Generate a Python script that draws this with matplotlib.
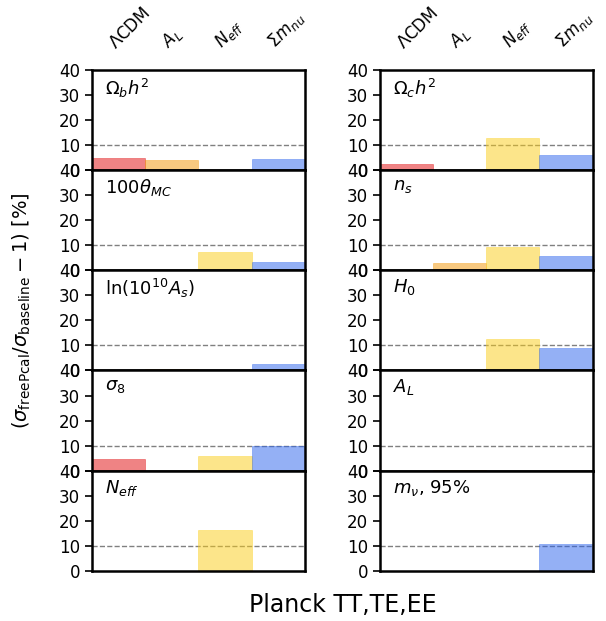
import matplotlib
matplotlib.use("Agg")
import matplotlib.pyplot as plt
import numpy as np

plt.rcParams['mathtext.fontset'] = 'dejavusans'

# models on the x axis
models = [r'$\Lambda$CDM', r'$A_L$', r'$N_{eff}$', r'$\Sigma m_{nu}$']
model_colors = ['#e0080b', '#f39502', '#fbcd17', '#2a62ec']

# parameter panels, column by column
left_params = [r'$\Omega_b h^2$', r'$100\theta_{MC}$', r'$\ln(10^{10} A_s)$',
               r'$\sigma_8$', r'$N_{eff}$']
right_params = [r'$\Omega_c h^2$', r'$n_s$', r'$H_0$', r'$A_L$', r'$m_\nu$, 95%']

# percentage increase in the error bar when the polarization calibration is freed
# (nan = parameter not varied in that model)
left_vals = [
    [5.1, 4.0, 0.3, 4.6],
    [0.3, 0.3, 7.5, 3.5],
    [0.2, 0.7, 0.0, 2.4],
    [4.8, np.nan, 6.0, 10.0],
    [np.nan, np.nan, 16.4, np.nan],
]
right_vals = [
    [2.5, 0.3, 13.0, 6.2],
    [0.3, 2.8, 9.5, 5.7],
    [0.2, 0.0, 12.7, 8.9],
    [np.nan, 0.3, np.nan, np.nan],
    [np.nan, np.nan, np.nan, 10.6],
]

fig = plt.figure(figsize=(6.06, 6.21), dpi=100)
gs_left = fig.add_gridspec(5, 1, left=0.152, right=0.503, top=0.887, bottom=0.081, hspace=0)
gs_right = fig.add_gridspec(5, 1, left=0.627, right=0.978, top=0.887, bottom=0.081, hspace=0)

x = np.arange(len(models))
for gs, params, vals in [(gs_left, left_params, left_vals), (gs_right, right_params, right_vals)]:
    for i, (name, v) in enumerate(zip(params, vals)):
        ax = fig.add_subplot(gs[i])
        v = np.nan_to_num(np.array(v, dtype=float))
        ax.bar(x, v, width=1.0, color=model_colors, alpha=0.5,
               edgecolor=model_colors, linewidth=0.5, zorder=2)
        ax.axhline(10, color='gray', ls='--', lw=1.0, zorder=1)
        ax.set_xlim(-0.5, 3.5)
        ax.set_ylim(0, 40)
        ax.set_yticks([0, 10, 20, 30, 40])
        ax.tick_params(axis='y', labelsize=12, length=5, width=1.2, direction='out')
        for s in ax.spines.values():
            s.set_linewidth(1.8)
        ax.text(0.06, 0.93, name, transform=ax.transAxes, fontsize=13,
                ha='left', va='top')
        if i == 0:
            ax.xaxis.tick_top()
            ax.set_xticks(x)
            ax.set_xticklabels(models, rotation=45, fontsize=12,
                               ha='left', va='bottom', rotation_mode='anchor')
            ax.tick_params(axis='x', length=0, pad=13)
        else:
            ax.set_xticks([])

fig.text(0.036, 0.5, r'$(\sigma_{\rm freePcal}/\sigma_{\rm baseline}-1)$ [%]',
         rotation=90, ha='center', va='center', fontsize=14)
fig.text(0.565, 0.025, 'Planck TT,TE,EE', ha='center', va='center', fontsize=17)

fig.savefig('out.png', dpi=100)
